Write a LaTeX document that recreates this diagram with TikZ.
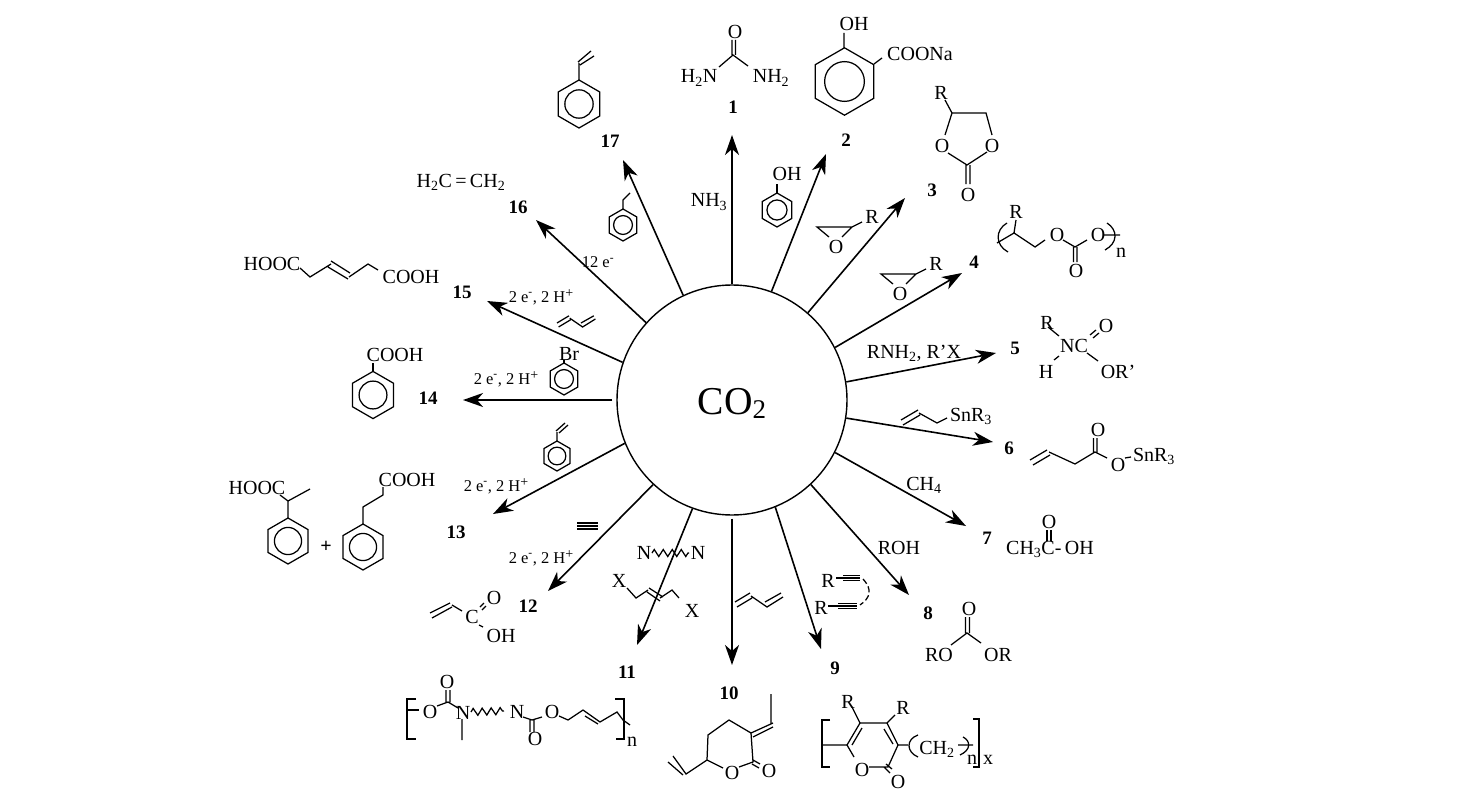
\documentclass[tikz,border=0pt]{standalone}
\usepackage{fontspec}
\setmainfont{Liberation Serif}
\usetikzlibrary{arrows.meta,decorations.pathmorphing}

\begin{document}
\begin{tikzpicture}[x=1pt, y=-1pt,
    bond/.style={line width=1.25pt},
    rxn/.style={line width=1.6pt, -{Stealth[length=20pt,width=14pt,inset=6pt]}},
    wavy/.style={decorate, decoration={zigzag, segment length=9pt, amplitude=3.5pt}},
    atom/.style={inner sep=0pt, font=\fontsize{20}{22}\selectfont},
    charge/.style={inner sep=0pt, font=\fontsize{16.5}{18}\selectfont},
    num/.style={inner sep=0pt, font=\fontsize{19}{21}\selectfont\bfseries},
    hub/.style={draw, circle, line width=1.4pt, minimum size=230pt, inner sep=0pt, text height=32pt, text depth=4pt, font=\fontsize{39.5}{42}\selectfont}]

    \newcommand{\lowsub}[1]{\textsubscript{#1}}
    \newcommand{\elec}{2 e\textsuperscript{-}, 2 H\raisebox{0.3em}{\fontsize{14}{14}\selectfont +}}
    \newcommand{\phenyl}[3]{
        \draw[bond, shift={(#1,#2)}] (90:#3) -- (30:#3) -- (-30:#3) -- (-90:#3) -- (-150:#3) -- (150:#3) -- cycle
            (0,0) circle [radius=0.59*#3];
    }
    \newcommand{\diene}[3]{
        \begin{scope}[shift={(#2,#3)}, scale=#1]
            \draw[bond] (0,0) -- (15,-9) (2,5) -- (17,-4) (16,-6) -- (32,5) -- (48,-5) (30,0) -- (46,-9);
        \end{scope}
    }
    \newcommand{\epoxide}[3]{
        \begin{scope}[shift={(#2,#3)}]
            \draw[bond] (12,10) -- (0,0) -- (35,0) -- (25,10) (35,0) -- (45,-5);
            \node[atom] (#1O) at (19,20) {O};
            \node[atom] (#1R) at (55,-10) {R};
        \end{scope}
    }

    \useasboundingbox (0,0) rectangle (1469,792);

    \node[hub] (co2) at (732,400) {CO\raisebox{-4pt}{\fontsize{27}{28}\selectfont 2}};

    \foreach \n/\ang/\gap/\tx/\ty in {1/90/0/732/135, 2/70.6/0/826/154, 3/49.6/0/905/198, 4/27/0/962/273,
        5/9.8/0/996/353, 6/-9.8/0/993/442, 7/-27.9/0/966/526, 8/-47.8/0/909/595, 9/-68/0/821/649,
        10/-90/3/732/665, 11/-110/0/637/645, 12/-133.6/0/548/591, 13/-158/0/493/514, 14/180/4/463/400,
        15/161/0/487/301, 16/138.5/0/536/220, 17/115.2/0/623/160} {
        \coordinate (tip\n) at (\tx,\ty);
        \draw[rxn, shorten <=\gap pt] (co2.\ang) -- (tip\n);
    }

    \foreach \n/\x/\y in {1/733/107, 2/846/140, 3/932/190, 4/974/262, 5/1015/348, 6/1009/448, 7/987/538,
        8/928/613, 9/835/668, 10/729/693, 11/627/672, 12/528/606, 13/456/532, 14/428/398, 15/462/292,
        16/518/207, 17/610/141} {
        \node[num] (num\n) at (\x,\y) {\n};
    }

    % reagents on the arrows
    \node[atom] (nh3) at (709,202) {NH\lowsub{3}};
    \node[atom] (rnh2) at (914,353) {RNH\lowsub{2}, R'X};
    \node[atom] (ch4) at (924,485) {CH\lowsub{4}};
    \node[atom] (roh) at (899,548) {ROH};
    \node[charge] (el12) at (541,558) {\elec};
    \node[charge] (el13) at (496,486) {\elec};
    \node[charge] (el14) at (506,379) {\elec};
    \node[charge] (el15) at (541,297) {\elec};
    \node[charge] (el16) at (598,262) {12 e\textsuperscript{-}};

    \phenyl{777}{210}{17} % phenol
    \draw[bond] (777,193) -- (777,184);
    \node[atom] (ohPhenol) at (787,174) {OH};

    \epoxide{epoxA}{817}{227}
    \epoxide{epoxB}{881}{274}

    \draw[bond] (901,420) -- (918,410) (903,425) -- (920,415) (919,413) -- (937,423) -- (947,418); % allyl tin
    \node[atom] (snAllyl) at (971,416) {SnR\lowsub{3}};

    \node[atom] (rDiyneA) at (828,581) {R};
    \node[atom] (rDiyneB) at (821,608) {R};
    \draw[bond] (836,578) -- (843,578) (828,606) -- (838,606);
    \foreach \dy in {-2.5,0,2.5} {
        \draw[bond] (843,578+\dy) -- (860,578+\dy);
        \draw[bond] (838,606+\dy) -- (857,606+\dy);
    }
    \draw[bond, dash pattern=on 6pt off 3pt] (863,579) .. controls (873,590) and (870,598) .. (860,605);

    \diene{1}{735}{602}
    \diene{0.8}{557}{323}

    \node[atom] (nDiamA) at (644,553) {N};
    \node[atom] (nDiamB) at (698,553) {N};
    \draw[bond, wavy] (652,553) -- (689,553);
    \node[atom] (xDiA) at (619,581) {X};
    \node[atom] (xDiB) at (692,611) {X};
    \draw[bond] (627,588) -- (636,598) -- (648,590) (649,588) -- (663,597) (647,592) -- (660,601) (660,598) -- (672,590) -- (679,598);

    \foreach \yy in {523,526,529} {
        \draw[bond] (577,\yy) -- (598,\yy); % acetylene
    }

    \phenyl{557}{456}{15} % styrene
    \draw[bond] (557,441) -- (557,432) (556,431) -- (565,423) (559,433) -- (568,425);

    \phenyl{564}{379}{16} % bromobenzene
    \draw[bond] (564,363) -- (564,360);
    \node[atom] (brPh) at (569,354) {Br};

    \phenyl{623}{225}{16} % toluene
    \draw[bond] (623,209) -- (623,200) -- (630,193);

    % 1
    \node[atom] (oUrea) at (735,32) {O};
    \node[atom] (nUreaA) at (699,78) {H\lowsub{2}N};
    \node[atom] (nUreaB) at (771,78) {NH\lowsub{2}};
    \draw[bond] (732,40) -- (732,55) (735.5,40) -- (735.5,55) (719,67) -- (733,55) -- (748,66);

    % 2
    \phenyl{844.5}{81.5}{33.7}
    \draw[bond] (844,48) -- (844,33) (874,64) -- (882,58);
    \node[atom] (ohSal) at (854,24) {OH};
    \node[atom] (cooSal) at (920,54) {COONa};

    % 3
    \node[atom] (rCarb) at (941,93) {R};
    \node[atom] (oCarbA) at (942,146) {O};
    \node[atom] (oCarbB) at (992,146) {O};
    \node[atom] (oCarbC) at (968,195) {O};
    \draw[bond] (945,100) -- (952,113) -- (986,113) -- (992,135) (952,113) -- (945,135)
        (948,153) -- (967,165) -- (987,152) (966,165) -- (966,184) (970,165) -- (970,184);

    % 4
    \node[atom] (rPoly) at (1016,212) {R};
    \node[atom] (oPolyA) at (1057,235) {O};
    \node[atom] (oPolyB) at (1098,235) {O};
    \node[atom] (oPolyC) at (1076,271) {O};
    \node[atom] (nPoly) at (1121,253) {n};
    \draw[bond] (1016,220) -- (1014,233) (997,243) -- (1014,233) -- (1035,247) -- (1045,240)
        (1063,240) -- (1075,247) -- (1087,240) (1073.5,247) -- (1073.5,262) (1077,247) -- (1077,262) (1104,235) -- (1120,235);
    \draw[bond] (1007,223) .. controls (995,230) and (995,245) .. (1008,252);
    \draw[bond] (1107,223) .. controls (1118,230) and (1118,243) .. (1105,250);

    % 5
    \node[atom] (rCarbam) at (1047,323) {R};
    \node[atom] (nCarbam) at (1074,346) {NC};
    \node[atom] (oCarbam) at (1106,326) {O};
    \node[atom] (hCarbam) at (1046,372) {H};
    \node[atom] (orCarbam) at (1118,372) {OR'};
    \draw[bond] (1048,327) -- (1059,336) (1054,360) -- (1059,356) (1087,353) -- (1098,361)
        (1090,335) -- (1096,330) (1093,338) -- (1099,333);

    % 6
    \node[atom] (oTinA) at (1098,430) {O};
    \node[atom] (oTinB) at (1118,465) {O};
    \node[atom] (snTin) at (1154,456) {SnR\lowsub{3}};
    \draw[bond] (1030,460) -- (1047,450) (1033,465) -- (1050,455) (1049,452) -- (1075,464) -- (1095,452) -- (1107,458)
        (1093.5,452) -- (1093.5,438) (1097,452) -- (1097,438) (1125,458) -- (1131,457);

    % 7
    \node[atom, anchor=west] (acetic) at (1006,549) {CH\lowsub{3}C-\,OH};
    \node[atom] (oAcetic) at (1049,522) {O};
    \draw[bond] (1047,530) -- (1047,541) (1051,530) -- (1051,541);

    % 8
    \node[atom] (oDmc) at (969,609) {O};
    \node[atom] (roDmc) at (939,655) {RO};
    \node[atom] (orDmc) at (998,655) {OR};
    \draw[bond] (965.5,617) -- (965.5,633) (969.5,617) -- (969.5,633) (951,645) -- (967,633) -- (981,643);

    % 9
    \node[atom] (rPyrA) at (848,702) {R};
    \node[atom] (rPyrB) at (903,708) {R};
    \node[atom] (oPyrA) at (862,770) {O};
    \node[atom] (oPyrB) at (898,782) {O};
    \node[atom] (ch2Pyr) at (937,749) {CH\lowsub{2}};
    \node[atom] (nPyr) at (972,760) {n};
    \node[atom] (xPyr) at (988,760) {x};
    \draw[bond] (852,707) -- (860,723) -- (887,723) -- (898,745) -- (888,767) -- (869,767)
        (887,723) -- (895,715) (860,723) -- (847,745) -- (854,757) (852,745) -- (862,728) (884,729) -- (893,744)
        (886,764) -- (892,769) (884,767) -- (890,773)
        (822,745) -- (847,745) (898,745) -- (908,745) (958,745) -- (973,745);
    \draw[bond] (830,720) -- (822,720) -- (822,767) -- (830,767);
    \draw[bond] (973,719) -- (979,719) -- (979,767) -- (973,767);
    \draw[bond] (918,735) .. controls (906,739) and (906,752) .. (918,757);
    \draw[bond] (963,737) .. controls (971,741) and (971,750) .. (960,755);

    % 10
    \node[atom] (oLacA) at (732,773) {O};
    \node[atom] (oLacB) at (769,771) {O};
    \draw[bond] (723,768) -- (707,760) -- (708,735) -- (729,720) -- (751,733) -- (753,762) -- (739,767)
        (753,760) -- (760,764) (752,764) -- (759,768)
        (751,733) -- (773,723) (753,737) -- (773,727) (771,723) -- (771,694)
        (707,760) -- (686,774) -- (673,756) (683,775) -- (668,762);

    % 11
    \node[atom] (oUrethA) at (430,712) {O};
    \node[atom] (oUrethB) at (447,682) {O};
    \node[atom] (nUrethA) at (463,713) {N};
    \node[atom] (nUrethB) at (517,712) {N};
    \node[atom] (oUrethC) at (535,739) {O};
    \node[atom] (oUrethD) at (552,712) {O};
    \node[atom] (nUreth) at (632,742) {n};
    \draw[bond] (416,699) -- (407,699) -- (407,739) -- (416,739) (407,710) -- (419,710);
    \draw[bond] (437,706) -- (448,702) -- (458,708) (446,702) -- (446,690) (450,702) -- (450,690) (462,719) -- (462,740);
    \draw[bond, wavy] (471,712) -- (504,711);
    \draw[bond] (523,717) -- (532,720) -- (542,717) (530,720) -- (530,732) (534,720) -- (534,732);
    \draw[bond] (559,716) -- (568,720) -- (583,710) -- (600,722) -- (617,712) -- (623,720) -- (630,725) (585,716) -- (598,724);
    \draw[bond] (615,699) -- (624,699) -- (624,739) -- (616,739);

    % 12
    \node[atom] (cAcryl) at (472,617) {C};
    \node[atom] (oAcryl) at (494,598) {O};
    \node[atom] (ohAcryl) at (501,636) {OH};
    \draw[bond] (430,613) -- (450,603) (432,618) -- (452,607) (452,605) -- (462,611)
        (480,607) -- (484,603) (482,610) -- (486,606) (479,625) -- (483,627);

    % 13
    \phenyl{288}{541}{23}
    \phenyl{363}{547}{23}
    \node[atom, font=\fontsize{20}{22}\selectfont\bfseries] (plus) at (326,547) {+};
    \node[atom] (hoocHyd) at (257,488) {HOOC};
    \node[atom] (coohHyd) at (407,480) {COOH};
    \draw[bond] (288,518) -- (288,501) -- (280,495) (288,501) -- (310,489) (363,524) -- (363,507) -- (383,495) -- (383,487);

    % 14
    \phenyl{373}{395}{23.6}
    \draw[bond] (373,371) -- (373,363);
    \node[atom] (coohBenz) at (395,355) {COOH};

    % 15
    \node[atom] (hoocHex) at (272,264) {HOOC};
    \node[atom] (coohHex) at (411,277) {COOH};
    \draw[bond] (300,268) -- (310,277) -- (331,264) (331,261) -- (350,273) (328,267) -- (348,279) (349,277) -- (368,264) -- (378,270);

    % 16
    \node[atom] (ethene) at (461,182) {H\lowsub{2}C\,=\,CH\lowsub{2}};

    % 17
    \phenyl{579}{104}{24}
    \draw[bond] (579,80) -- (579,63) (578,62) -- (591,51) (580,65) -- (594,56);

\end{tikzpicture}
\end{document}
